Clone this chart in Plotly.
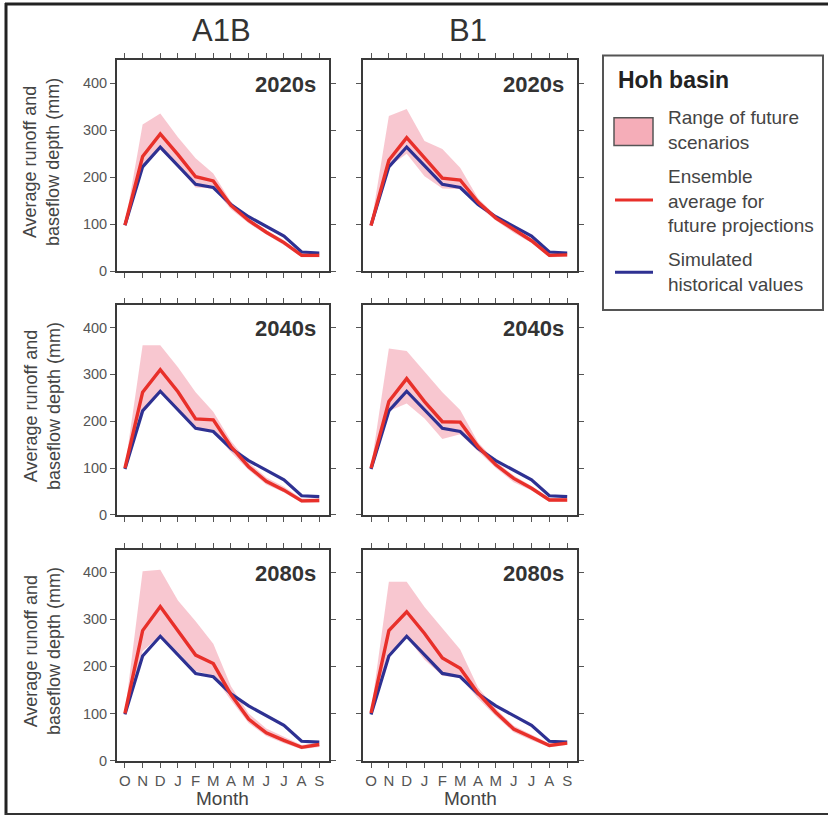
import plotly.graph_objects as go

months = ["O", "N", "D", "J", "F", "M", "A", "M", "J", "J", "A", "S"]
scenarios = ["A1B", "B1"]
periods = ["2020s", "2040s", "2080s"]

hist = [98, 222, 264, 224, 185, 178, 142, 116, 96, 75, 41, 39]

ens_a1b_2020 = [98, 244, 292, 248, 201, 192, 140, 108, 83, 61, 34, 34]
ens_a1b_2040 = [100, 262, 310, 263, 205, 203, 146, 103, 72, 53, 30, 31]
ens_a1b_2080 = [100, 276, 327, 276, 224, 206, 140, 88, 59, 43, 28, 34]
ens_b1_2020 = [97, 236, 284, 240, 198, 194, 147, 113, 88, 65, 34, 35]
ens_b1_2040 = [100, 242, 291, 242, 199, 198, 146, 107, 78, 57, 32, 32]
ens_b1_2080 = [101, 276, 316, 270, 218, 196, 143, 102, 67, 49, 32, 37]

up_a1b_2020 = [100, 312, 335, 285, 240, 208, 148, 112, 88, 66, 38, 38]
lo_a1b_2020 = [96, 220, 258, 222, 178, 176, 132, 102, 78, 56, 30, 30]
up_a1b_2040 = [102, 362, 362, 315, 262, 220, 158, 112, 80, 60, 35, 35]
lo_a1b_2040 = [98, 222, 262, 222, 182, 178, 134, 96, 65, 48, 26, 27]
up_a1b_2080 = [102, 402, 405, 340, 296, 248, 158, 100, 68, 50, 33, 38]
lo_a1b_2080 = [98, 232, 266, 230, 190, 180, 128, 80, 52, 37, 24, 29]
up_b1_2020 = [99, 330, 345, 277, 260, 220, 155, 118, 93, 70, 38, 38]
lo_b1_2020 = [95, 222, 250, 202, 176, 175, 138, 108, 82, 60, 30, 31]
up_b1_2040 = [102, 355, 350, 305, 262, 224, 155, 114, 84, 62, 36, 36]
lo_b1_2040 = [98, 222, 238, 206, 162, 172, 136, 100, 70, 52, 28, 28]
up_b1_2080 = [104, 380, 380, 326, 281, 236, 155, 110, 74, 55, 36, 40]
lo_b1_2080 = [99, 228, 262, 214, 180, 176, 132, 94, 60, 43, 28, 33]

y_ticks = [0, 100, 200, 300, 400]

panels = {
    ("A1B", "2020s"): (ens_a1b_2020, up_a1b_2020, lo_a1b_2020),
    ("A1B", "2040s"): (ens_a1b_2040, up_a1b_2040, lo_a1b_2040),
    ("A1B", "2080s"): (ens_a1b_2080, up_a1b_2080, lo_a1b_2080),
    ("B1", "2020s"): (ens_b1_2020, up_b1_2020, lo_b1_2020),
    ("B1", "2040s"): (ens_b1_2040, up_b1_2040, lo_b1_2040),
    ("B1", "2080s"): (ens_b1_2080, up_b1_2080, lo_b1_2080),
}

W, H = 828, 825
FONT = "Liberation Sans, Arial, sans-serif"
RED = "#e8302a"
BLUE = "#2e3192"
BAND = "rgba(240,130,150,0.45)"

col_px = [(117, 329), (363, 577)]
row_px = [(61, 274), (308, 520), (555, 768)]


def fx(p):
    return p / W


def fy(p):
    return 1 - p / H


fig = go.Figure()
layout = dict(
    width=W, height=H, margin=dict(l=0, r=0, t=0, b=0),
    paper_bgcolor="white", plot_bgcolor="white", showlegend=False,
    font=dict(family=FONT, color="#444"),
)
annotations = []
shapes = []

xs = list(range(len(months)))
idx = 0
for r, per in enumerate(periods):
    for c, sc in enumerate(scenarios):
        idx += 1
        ens, up, lo = panels[(sc, per)]
        xa = "x" if idx == 1 else f"x{idx}"
        ya = "y" if idx == 1 else f"y{idx}"
        fig.add_trace(go.Scatter(
            x=xs + xs[::-1], y=up + lo[::-1], fill="toself", fillcolor=BAND,
            line=dict(width=0, color=BAND), mode="lines", hoverinfo="skip",
            xaxis=xa, yaxis=ya))
        fig.add_trace(go.Scatter(x=xs, y=hist, mode="lines",
                                 line=dict(color=BLUE, width=3.2),
                                 xaxis=xa, yaxis=ya))
        fig.add_trace(go.Scatter(x=xs, y=ens, mode="lines",
                                 line=dict(color=RED, width=3.4),
                                 xaxis=xa, yaxis=ya))
        x0, x1 = col_px[c]
        y0, y1 = row_px[r]
        axis_common = dict(showgrid=False, zeroline=False, showline=True,
                           linecolor="#3a3a3a", linewidth=2, mirror="ticks",
                           ticks="outside", ticklen=5, tickwidth=1,
                           tickcolor="#555")
        layout["xaxis" if idx == 1 else f"xaxis{idx}"] = dict(
            axis_common, domain=[fx(x0), fx(x1)], range=[-0.45, 11.55],
            tickmode="array", tickvals=xs, ticktext=months,
            showticklabels=(r == 2), tickfont=dict(size=15, color="#555"),
            anchor=ya, fixedrange=True)
        layout["yaxis" if idx == 1 else f"yaxis{idx}"] = dict(
            axis_common, domain=[fy(y1), fy(y0)], range=[0, 448],
            tickmode="array", tickvals=y_ticks,
            showticklabels=(c == 0), tickfont=dict(size=14.5, color="#555"),
            anchor=xa, fixedrange=True)
        annotations.append(dict(
            x=fx(x1 - 11), y=fy(y0 + 24), xref="paper", yref="paper",
            text=f"<b>{per}</b>", showarrow=False, xanchor="right",
            yanchor="middle", font=dict(size=22, color="#333", family=FONT)))
        if c == 0:
            annotations.append(dict(
                x=fx(42), y=fy((y0 + y1) / 2 - 4), xref="paper", yref="paper",
                text="Average runoff and<br>baseflow depth (mm)",
                showarrow=False, textangle=-90, xanchor="center",
                yanchor="middle", font=dict(size=18, color="#444", family=FONT)))
        if r == 2:
            annotations.append(dict(
                x=fx((x0 + x1) / 2), y=fy(806), xref="paper", yref="paper",
                text="Month", showarrow=False, xanchor="center",
                yanchor="middle", font=dict(size=19, color="#444", family=FONT)))
        if r == 0:
            annotations.append(dict(
                x=fx((x0 + x1) / 2 - 2), y=fy(31), xref="paper", yref="paper",
                text=sc, showarrow=False, xanchor="center",
                yanchor="middle", font=dict(size=31, color="#333", family=FONT)))

# legend box
shapes.append(dict(type="rect", xref="paper", yref="paper",
                   x0=fx(603), x1=fx(823), y0=fy(313), y1=fy(56),
                   line=dict(color="#555", width=2), fillcolor="white"))
annotations.append(dict(x=fx(616), y=fy(81), xref="paper", yref="paper",
                        text="<b>Hoh basin</b>", showarrow=False,
                        xanchor="left", yanchor="middle",
                        font=dict(size=23, color="#222", family=FONT)))
shapes.append(dict(type="rect", xref="paper", yref="paper",
                   x0=fx(614), x1=fx(653), y0=fy(147), y1=fy(119),
                   line=dict(color="#555", width=1.5),
                   fillcolor="#f5adb8"))
annotations.append(dict(x=fx(666), y=fy(131), xref="paper", yref="paper",
                        text="Range of future<br>scenarios", showarrow=False,
                        xanchor="left", yanchor="middle", align="left",
                        font=dict(size=19, color="#444", family=FONT)))
shapes.append(dict(type="line", xref="paper", yref="paper",
                   x0=fx(615), x1=fx(653), y0=fy(202), y1=fy(202),
                   line=dict(color=RED, width=3)))
annotations.append(dict(x=fx(666), y=fy(203), xref="paper", yref="paper",
                        text="Ensemble<br>average for<br>future projections",
                        showarrow=False, xanchor="left", yanchor="middle",
                        align="left",
                        font=dict(size=19, color="#444", family=FONT)))
shapes.append(dict(type="line", xref="paper", yref="paper",
                   x0=fx(615), x1=fx(653), y0=fy(275), y1=fy(275),
                   line=dict(color=BLUE, width=3)))
annotations.append(dict(x=fx(666), y=fy(275), xref="paper", yref="paper",
                        text="Simulated<br>historical values",
                        showarrow=False, xanchor="left", yanchor="middle",
                        align="left",
                        font=dict(size=19, color="#444", family=FONT)))

# outer frame
shapes.append(dict(type="line", xref="paper", yref="paper",
                   x0=fx(6), x1=fx(6), y0=fy(3), y1=fy(823),
                   line=dict(color="#222", width=3)))
shapes.append(dict(type="line", xref="paper", yref="paper",
                   x0=fx(5), x1=1, y0=fy(4), y1=fy(4),
                   line=dict(color="#222", width=3)))
shapes.append(dict(type="line", xref="paper", yref="paper",
                   x0=fx(5), x1=1, y0=fy(822), y1=fy(822),
                   line=dict(color="#333", width=2)))

layout["annotations"] = annotations
layout["shapes"] = shapes
fig.update_layout(**layout)
fig.write_html(
    "out.html",
    post_script="document.body.style.margin='0';"
                "document.body.style.overflow='hidden';",
    config={"displayModeBar": False},
)
